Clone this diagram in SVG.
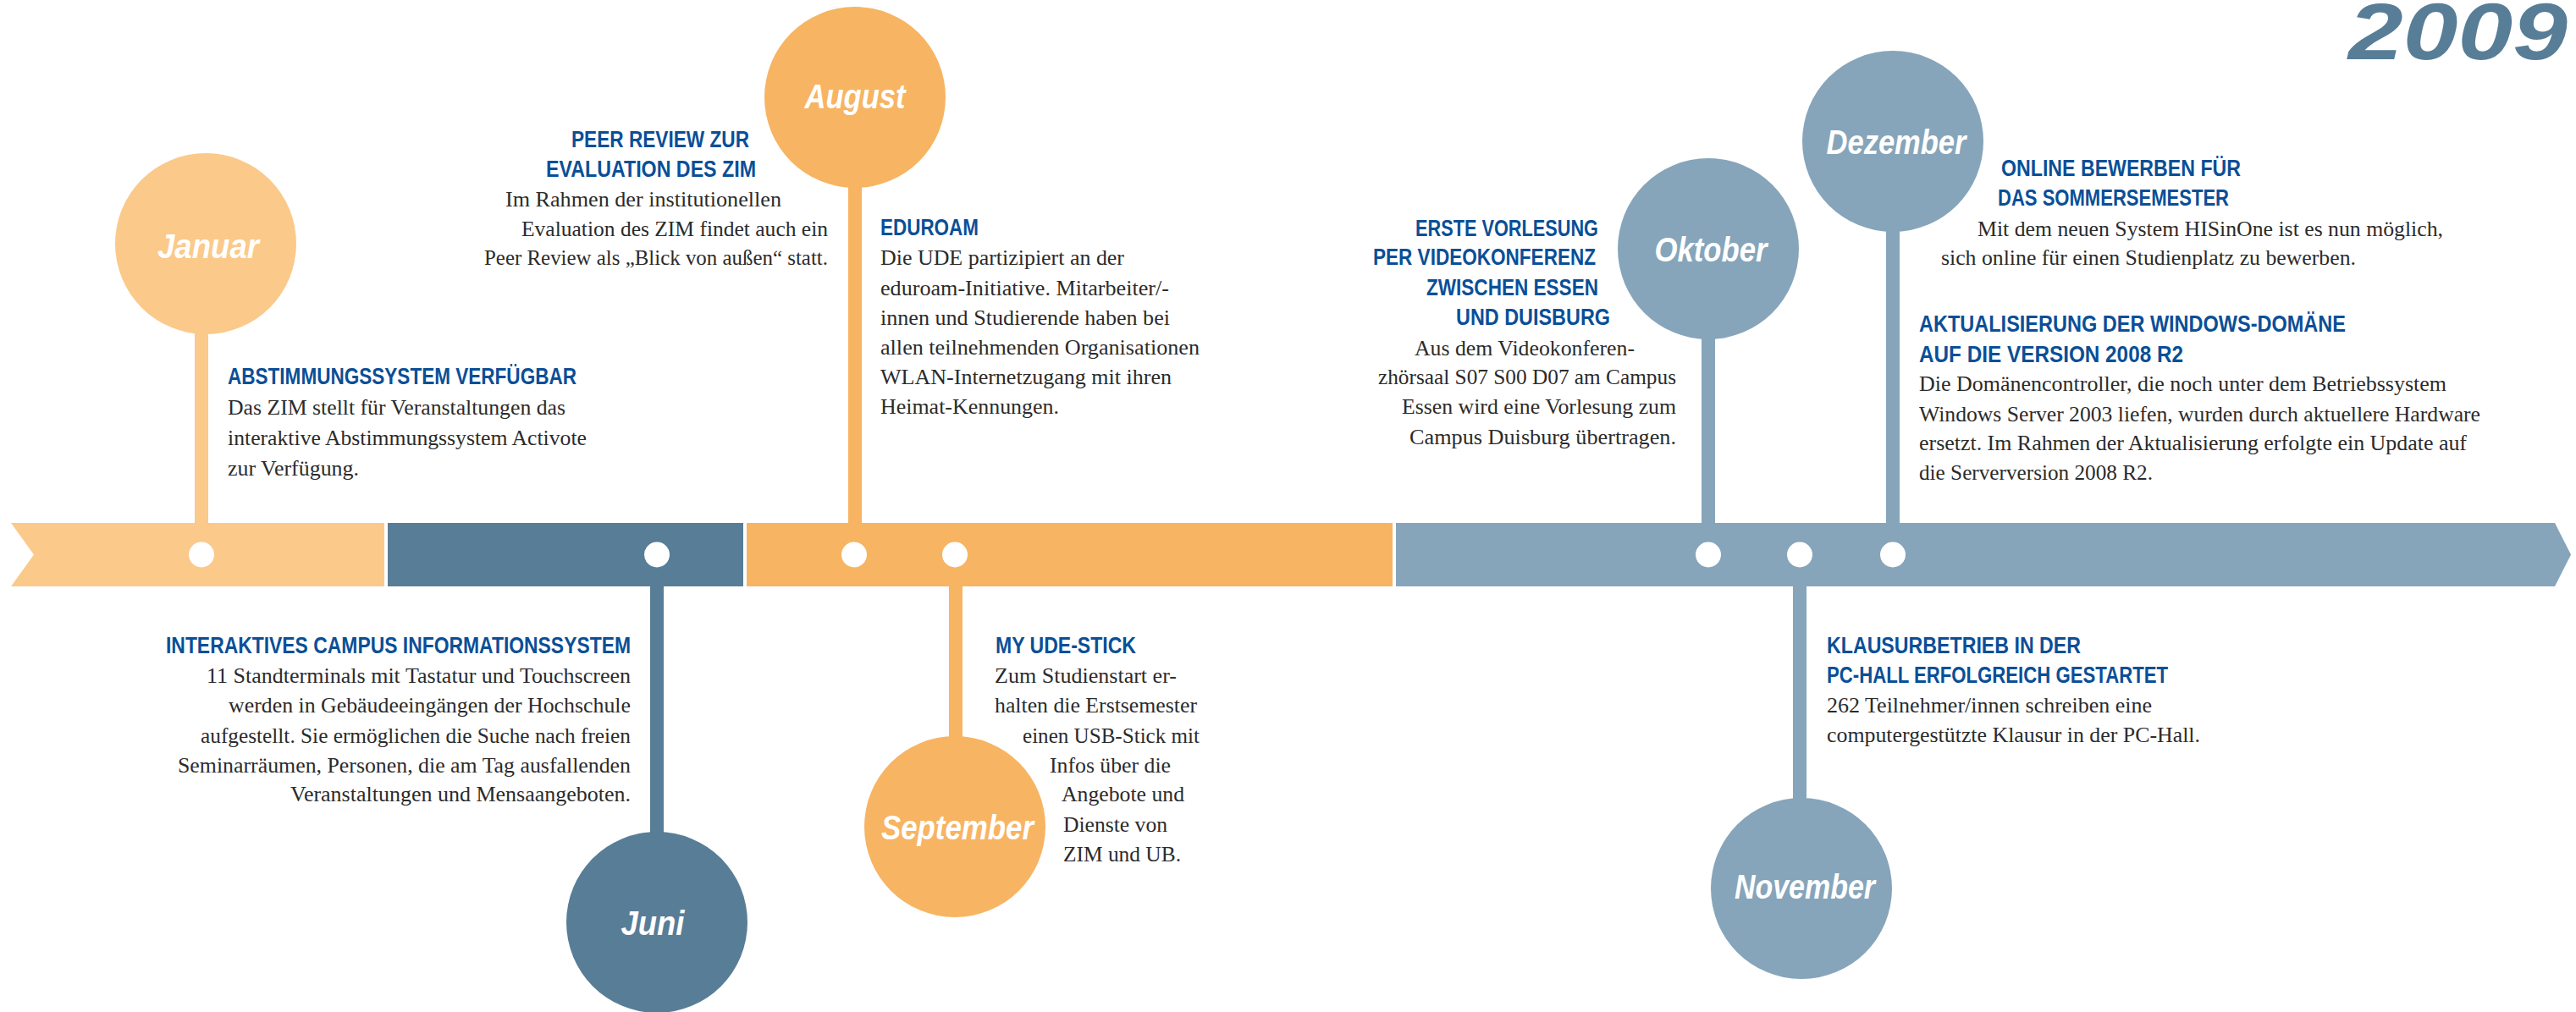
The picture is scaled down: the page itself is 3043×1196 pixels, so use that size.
<svg xmlns="http://www.w3.org/2000/svg" width="3043" height="1196" viewBox="0 0 3043 1196">
  <style>
    .bg { fill: #ffffff; }
    .c-jan { fill: #FBC98A; }
    .c-jun { fill: #587D97; }
    .c-aug { fill: #F7B462; }
    .c-okt { fill: #86A5BA; }
    .dot { fill: #ffffff; }
    .month { font-family: "Liberation Sans", "Noto Sans", sans-serif; font-weight: bold; font-style: italic; font-size: 40px; fill: #ffffff; text-anchor: middle; }
    .head { font-family: "Liberation Sans Narrow", "Liberation Sans", sans-serif; font-weight: bold; font-size: 27px; fill: #0A4F97; }
    .body { font-family: "Liberation Serif", "DejaVu Serif", serif; font-size: 25px; fill: #2b2b2b; }
    .year { font-family: "Liberation Sans", sans-serif; font-weight: bold; font-style: italic; font-size: 94px; fill: #587D97; }
  </style>

  <rect class="bg" x="0" y="0" width="3043" height="1196"/>

  <!-- year heading -->
  <text class="year" x="2774" y="70" textLength="259" lengthAdjust="spacingAndGlyphs">2009</text>

  <!-- timeline bar, one segment per colour band -->
  <g id="timeline-bar">
    <polygon class="c-jan" points="13,618 454,618 454,693 13,693 40,655.5"/>
    <rect class="c-jun" x="458" y="618" width="420" height="75"/>
    <rect class="c-aug" x="882" y="618" width="763" height="75"/>
    <polygon class="c-okt" points="1649,618 3018,618 3037,655.5 3018,693 1649,693"/>
  </g>

  <!-- stems joining each month bubble to the bar -->
  <g id="connectors">
    <rect class="c-jan" x="230" y="390" width="16" height="230"/>
    <rect class="c-aug" x="1002" y="215" width="16" height="405"/>
    <rect class="c-okt" x="2010" y="395" width="16" height="225"/>
    <rect class="c-okt" x="2228" y="265" width="16" height="355"/>
    <rect class="c-jun" x="768" y="691" width="16" height="300"/>
    <rect class="c-aug" x="1121" y="691" width="16" height="185"/>
    <rect class="c-okt" x="2118" y="691" width="16" height="260"/>
  </g>

  <!-- markers on the bar -->
  <g id="markers">
    <circle class="dot" cx="238" cy="655.5" r="15"/>
    <circle class="dot" cx="776" cy="655.5" r="15"/>
    <circle class="dot" cx="1009" cy="655.5" r="15"/>
    <circle class="dot" cx="1128" cy="655.5" r="15"/>
    <circle class="dot" cx="2018" cy="655.5" r="15"/>
    <circle class="dot" cx="2126" cy="655.5" r="15"/>
    <circle class="dot" cx="2236" cy="655.5" r="15"/>
  </g>

  <!-- Januar -->
  <g id="januar">
    <circle class="c-jan" cx="243" cy="288" r="107"/>
    <text class="month" x="246" y="305" textLength="120" lengthAdjust="spacingAndGlyphs">Januar</text>
    <text class="head" x="269" y="454" textLength="412" lengthAdjust="spacingAndGlyphs">ABSTIMMUNGSSYSTEM VERFÜGBAR</text>
    <text class="body" x="269" y="490" textLength="399" lengthAdjust="spacingAndGlyphs">Das ZIM stellt für Veranstaltungen das</text>
    <text class="body" x="269" y="526" textLength="424" lengthAdjust="spacingAndGlyphs">interaktive Abstimmungssystem Activote</text>
    <text class="body" x="269" y="562" textLength="155" lengthAdjust="spacingAndGlyphs">zur Verfügung.</text>
  </g>

  <!-- Juni -->
  <g id="juni">
    <circle class="c-jun" cx="776" cy="1090" r="107"/>
    <text class="month" x="771" y="1105" textLength="75" lengthAdjust="spacingAndGlyphs">Juni</text>
    <text class="head" x="196" y="772" textLength="549" lengthAdjust="spacingAndGlyphs">INTERAKTIVES CAMPUS INFORMATIONSSYSTEM</text>
    <text class="body" x="244" y="807" textLength="501" lengthAdjust="spacingAndGlyphs">11 Standterminals mit Tastatur und Touchscreen</text>
    <text class="body" x="270" y="842" textLength="475" lengthAdjust="spacingAndGlyphs">werden in Gebäudeeingängen der Hochschule</text>
    <text class="body" x="237" y="878" textLength="508" lengthAdjust="spacingAndGlyphs">aufgestellt. Sie ermöglichen die Suche nach freien</text>
    <text class="body" x="210" y="913" textLength="535" lengthAdjust="spacingAndGlyphs">Seminarräumen, Personen, die am Tag ausfallenden</text>
    <text class="body" x="343" y="947" textLength="402" lengthAdjust="spacingAndGlyphs">Veranstaltungen und Mensaangeboten.</text>
  </g>

  <!-- August -->
  <g id="august">
    <circle class="c-aug" cx="1010" cy="115" r="107"/>
    <text class="month" x="1010" y="128" textLength="119" lengthAdjust="spacingAndGlyphs">August</text>
    <text class="head" x="675" y="174" textLength="210" lengthAdjust="spacingAndGlyphs">PEER REVIEW ZUR</text>
    <text class="head" x="645" y="209" textLength="248" lengthAdjust="spacingAndGlyphs">EVALUATION DES ZIM</text>
    <text class="body" x="597" y="244" textLength="326" lengthAdjust="spacingAndGlyphs">Im Rahmen der institutionellen</text>
    <text class="body" x="616" y="279" textLength="362" lengthAdjust="spacingAndGlyphs">Evaluation des ZIM findet auch ein</text>
    <text class="body" x="572" y="313" textLength="406" lengthAdjust="spacingAndGlyphs">Peer Review als „Blick von außen“ statt.</text>
    <text class="head" x="1040" y="278" textLength="116" lengthAdjust="spacingAndGlyphs">EDUROAM</text>
    <text class="body" x="1040" y="313" textLength="288" lengthAdjust="spacingAndGlyphs">Die UDE partizipiert an der</text>
    <text class="body" x="1040" y="349" textLength="341" lengthAdjust="spacingAndGlyphs">eduroam-Initiative. Mitarbeiter/-</text>
    <text class="body" x="1040" y="384" textLength="342" lengthAdjust="spacingAndGlyphs">innen und Studierende haben bei</text>
    <text class="body" x="1040" y="419" textLength="377" lengthAdjust="spacingAndGlyphs">allen teilnehmenden Organisationen</text>
    <text class="body" x="1040" y="454" textLength="344" lengthAdjust="spacingAndGlyphs">WLAN-Internetzugang mit ihren</text>
    <text class="body" x="1040" y="489" textLength="211" lengthAdjust="spacingAndGlyphs">Heimat-Kennungen.</text>
  </g>

  <!-- September -->
  <g id="september">
    <circle class="c-aug" cx="1128" cy="977" r="107"/>
    <text class="month" x="1131" y="992" textLength="180" lengthAdjust="spacingAndGlyphs">September</text>
    <text class="head" x="1176" y="772" textLength="166" lengthAdjust="spacingAndGlyphs">MY UDE-STICK</text>
    <text class="body" x="1175" y="807" textLength="215" lengthAdjust="spacingAndGlyphs">Zum Studienstart er-</text>
    <text class="body" x="1175" y="842" textLength="239" lengthAdjust="spacingAndGlyphs">halten die Erstsemester</text>
    <text class="body" x="1208" y="878" textLength="209" lengthAdjust="spacingAndGlyphs">einen USB-Stick mit</text>
    <text class="body" x="1240" y="913" textLength="143" lengthAdjust="spacingAndGlyphs">Infos über die</text>
    <text class="body" x="1254" y="947" textLength="145" lengthAdjust="spacingAndGlyphs">Angebote und</text>
    <text class="body" x="1256" y="983" textLength="123" lengthAdjust="spacingAndGlyphs">Dienste von</text>
    <text class="body" x="1256" y="1018" textLength="139" lengthAdjust="spacingAndGlyphs">ZIM und UB.</text>
  </g>

  <!-- Oktober -->
  <g id="oktober">
    <circle class="c-okt" cx="2018" cy="294" r="107"/>
    <text class="month" x="2021" y="309" textLength="133" lengthAdjust="spacingAndGlyphs">Oktober</text>
    <text class="head" x="1672" y="279" textLength="216" lengthAdjust="spacingAndGlyphs">ERSTE VORLESUNG</text>
    <text class="head" x="1622" y="313" textLength="263" lengthAdjust="spacingAndGlyphs">PER VIDEOKONFERENZ</text>
    <text class="head" x="1685" y="349" textLength="203" lengthAdjust="spacingAndGlyphs">ZWISCHEN ESSEN</text>
    <text class="head" x="1720" y="384" textLength="182" lengthAdjust="spacingAndGlyphs">UND DUISBURG</text>
    <text class="body" x="1671" y="420" textLength="260" lengthAdjust="spacingAndGlyphs">Aus dem Videokonferen-</text>
    <text class="body" x="1628" y="454" textLength="352" lengthAdjust="spacingAndGlyphs">zhörsaal S07 S00 D07 am Campus</text>
    <text class="body" x="1656" y="489" textLength="324" lengthAdjust="spacingAndGlyphs">Essen wird eine Vorlesung zum</text>
    <text class="body" x="1665" y="525" textLength="315" lengthAdjust="spacingAndGlyphs">Campus Duisburg übertragen.</text>
  </g>

  <!-- November -->
  <g id="november">
    <circle class="c-okt" cx="2128" cy="1050" r="107"/>
    <text class="month" x="2132" y="1062" textLength="166" lengthAdjust="spacingAndGlyphs">November</text>
    <text class="head" x="2158" y="772" textLength="300" lengthAdjust="spacingAndGlyphs">KLAUSURBETRIEB IN DER</text>
    <text class="head" x="2158" y="807" textLength="403" lengthAdjust="spacingAndGlyphs">PC-HALL ERFOLGREICH GESTARTET</text>
    <text class="body" x="2158" y="842" textLength="384" lengthAdjust="spacingAndGlyphs">262 Teilnehmer/innen schreiben eine</text>
    <text class="body" x="2158" y="877" textLength="441" lengthAdjust="spacingAndGlyphs">computergestützte Klausur in der PC-Hall.</text>
  </g>

  <!-- Dezember -->
  <g id="dezember">
    <circle class="c-okt" cx="2236" cy="167" r="107"/>
    <text class="month" x="2240" y="182" textLength="165" lengthAdjust="spacingAndGlyphs">Dezember</text>
    <text class="head" x="2364" y="208" textLength="283" lengthAdjust="spacingAndGlyphs">ONLINE BEWERBEN FÜR</text>
    <text class="head" x="2360" y="243" textLength="273" lengthAdjust="spacingAndGlyphs">DAS SOMMERSEMESTER</text>
    <text class="body" x="2336" y="279" textLength="550" lengthAdjust="spacingAndGlyphs">Mit dem neuen System HISinOne ist es nun möglich,</text>
    <text class="body" x="2293" y="313" textLength="490" lengthAdjust="spacingAndGlyphs">sich online für einen Studienplatz zu bewerben.</text>
    <text class="head" x="2267" y="392" textLength="504" lengthAdjust="spacingAndGlyphs">AKTUALISIERUNG DER WINDOWS-DOMÄNE</text>
    <text class="head" x="2267" y="428" textLength="312" lengthAdjust="spacingAndGlyphs">AUF DIE VERSION 2008 R2</text>
    <text class="body" x="2267" y="462" textLength="623" lengthAdjust="spacingAndGlyphs">Die Domänencontroller, die noch unter dem Betriebssystem</text>
    <text class="body" x="2267" y="498" textLength="663" lengthAdjust="spacingAndGlyphs">Windows Server 2003 liefen, wurden durch aktuellere Hardware</text>
    <text class="body" x="2267" y="532" textLength="647" lengthAdjust="spacingAndGlyphs">ersetzt. Im Rahmen der Aktualisierung erfolgte ein Update auf</text>
    <text class="body" x="2267" y="567" textLength="276" lengthAdjust="spacingAndGlyphs">die Serverversion 2008 R2.</text>
  </g>
</svg>
